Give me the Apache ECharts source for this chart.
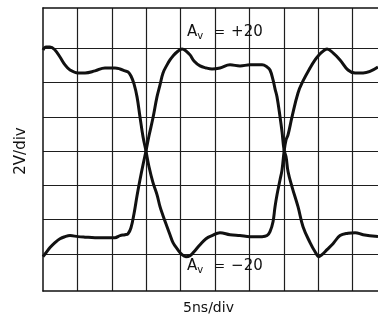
<!DOCTYPE html>
<html>
<head>
<meta charset="utf-8">
<script src="https://cdn.jsdelivr.net/npm/echarts@6/dist/echarts.min.js"></script>
<style>
html,body{margin:0;padding:0;background:#fff;}
#chart{width:378px;height:320px;}
</style>
</head>
<body>
<div id="chart"></div>
<script>
// time in ns (5 ns/div), voltages in V (2 V/div)
const timeNs = [0, 0.44, 1.02, 1.74, 2.47, 3.20, 3.93, 5.09, 6.11, 7.56,
  9.01, 10.47, 11.20, 11.92, 12.36, 12.79, 13.23, 13.67, 14.10, 14.54,
  14.97, 15.41, 15.99, 16.57, 17.01, 17.45, 18.03, 18.46, 18.90, 19.48,
  20.21, 20.79, 21.37, 21.95, 22.83, 23.70, 24.57, 25.73, 27.19, 28.64,
  30.10, 31.84, 32.57, 33.00, 33.44, 33.73, 34.02, 34.46, 34.75, 35.04,
  35.33, 35.62, 36.20, 37.07, 37.80, 38.82, 39.55, 40.13, 40.56, 41.29,
  42.16, 43.18, 44.34, 45.37, 46.53, 48.70];

const gainMinus20 = [5.90, 6.08, 6.08, 5.90, 5.49, 5.03, 4.73, 4.56, 4.56, 4.68,
  4.85, 4.85, 4.79, 4.68, 4.62, 4.38, 3.92, 3.16, 1.99, 0.83,
  0.00, -0.92, -1.85, -2.55, -3.25, -3.78, -4.42, -4.89, -5.35, -5.70,
  -6.05, -6.17, -6.11, -5.88, -5.47, -5.12, -4.94, -4.77, -4.89, -4.94,
  -5.00, -5.00, -4.94, -4.71, -4.13, -3.25, -2.55, -1.68, -1.10, -0.05,
  0.65, 0.94, 1.99, 3.39, 4.09, 4.85, 5.32, 5.61, 5.78, 5.96,
  5.73, 5.32, 4.73, 4.56, 4.56, 4.91];

const gainPlus20 = [-6.17, -5.94, -5.64, -5.35, -5.12, -5.00, -4.94, -5.00, -5.03, -5.06,
  -5.06, -5.06, -4.94, -4.89, -4.83, -4.48, -3.66, -2.61, -1.68, -0.80,
  0.00, 0.89, 1.94, 3.16, 3.86, 4.56, 5.03, 5.32, 5.55, 5.78,
  5.96, 5.84, 5.61, 5.26, 4.97, 4.85, 4.79, 4.85, 5.03, 4.97,
  5.03, 5.03, 4.91, 4.73, 4.15, 3.63, 3.16, 1.99, 1.12, 0.07,
  -0.34, -1.20, -2.09, -3.25, -4.42, -5.35, -5.88, -6.17, -6.05, -5.76,
  -5.41, -4.94, -4.80, -4.77, -4.89, -5.00];

const xName = '5ns/div';
const yName = '2V/div';
const labelPlus = ['A', 'v', '=', '+20'];
const labelMinus = ['A', 'v', '=', '\u221220'];

const ink = '#111';
const gridInk = '#1e1e1e';
const clear = 'rgba(0,0,0,0)';
const fontFam = '"DejaVu Sans", sans-serif';

function richLabel(parts) {
  return '{a|' + parts[0] + '}{s|' + parts[1] + '}{e|' + parts[2] + '}{n|' + parts[3] + '}';
}
const rich = {
  a: { fontSize: 15, fontFamily: fontFam, fill: ink, color: ink },
  s: { fontSize: 10, fontFamily: fontFam, fill: ink, color: ink, padding: [7, 0, 0, 0] },
  e: { fontSize: 13, fontFamily: fontFam, fill: ink, color: ink, padding: [0, 6, 0, 11] },
  n: { fontSize: 15, fontFamily: fontFam, fill: ink, color: ink }
};

const chart = echarts.init(document.getElementById('chart'), null, { renderer: 'canvas' });
const ySplitColors = [clear, gridInk, gridInk, gridInk, gridInk, gridInk, gridInk, gridInk, clear];
const xSplitColors = [clear, gridInk, gridInk, gridInk, gridInk, gridInk, gridInk, gridInk, gridInk, gridInk, clear];
const hidden = { axisTick: { show: false }, axisLabel: { show: false } };
const border = { show: true, onZero: false, lineStyle: { color: ink, width: 1.5 } };

chart.setOption({
  animation: false,
  backgroundColor: '#fff',
  grid: [
    { left: 43, right: 0, top: 14, bottom: 31.5, show: false },
    { left: 43, right: 0, top: 8, bottom: 29, show: false }
  ],
  xAxis: [
    Object.assign({
      gridIndex: 0, type: 'value', min: 0, max: 48.7, interval: 5,
      axisLine: { show: false }, splitLine: { show: false },
      name: xName, nameLocation: 'middle', nameGap: 13,
      nameTextStyle: { fontSize: 14, fontFamily: fontFam, color: ink, padding: [0, 4, 0, 0] }
    }, hidden),
    Object.assign({
      gridIndex: 1, type: 'value', min: 0, max: 48.7, interval: 5, position: 'bottom',
      axisLine: border,
      splitLine: { show: true, lineStyle: { color: xSplitColors, width: 1.2 } }
    }, hidden),
    Object.assign({
      gridIndex: 1, type: 'value', min: 0, max: 48.7, interval: 5, position: 'top',
      axisLine: border, splitLine: { show: false }
    }, hidden)
  ],
  yAxis: [
    Object.assign({
      gridIndex: 0, type: 'value', min: -8, max: 8, interval: 2,
      axisLine: { show: false },
      splitLine: { show: true, lineStyle: { color: ySplitColors, width: 1.2 } },
      name: yName, nameLocation: 'middle', nameGap: 14, nameRotate: 90,
      nameTextStyle: { fontSize: 15, fontFamily: fontFam, color: ink }
    }, hidden),
    Object.assign({
      gridIndex: 1, type: 'value', min: 0, max: 1, position: 'left',
      axisLine: border, splitLine: { show: false }
    }, hidden)
  ],
  series: [
    {
      name: 'Av = −20', type: 'line', xAxisIndex: 0, yAxisIndex: 0,
      data: timeNs.map((t, i) => [t, gainMinus20[i]]),
      showSymbol: false, smooth: 0.4,
      lineStyle: { color: ink, width: 3 }
    },
    {
      name: 'Av = +20', type: 'line', xAxisIndex: 0, yAxisIndex: 0,
      data: timeNs.map((t, i) => [t, gainPlus20[i]]),
      showSymbol: false, smooth: 0.4,
      lineStyle: { color: ink, width: 3 }
    }
  ],
  graphic: [
    {
      type: 'text', left: 187, top: 25, z: 100,
      style: { text: richLabel(labelPlus), rich: rich, fill: ink, font: '15px ' + fontFam }
    },
    {
      type: 'text', left: 187, top: 259, z: 100,
      style: { text: richLabel(labelMinus), rich: rich, fill: ink, font: '15px ' + fontFam }
    }
  ]
});
</script>
</body>
</html>
